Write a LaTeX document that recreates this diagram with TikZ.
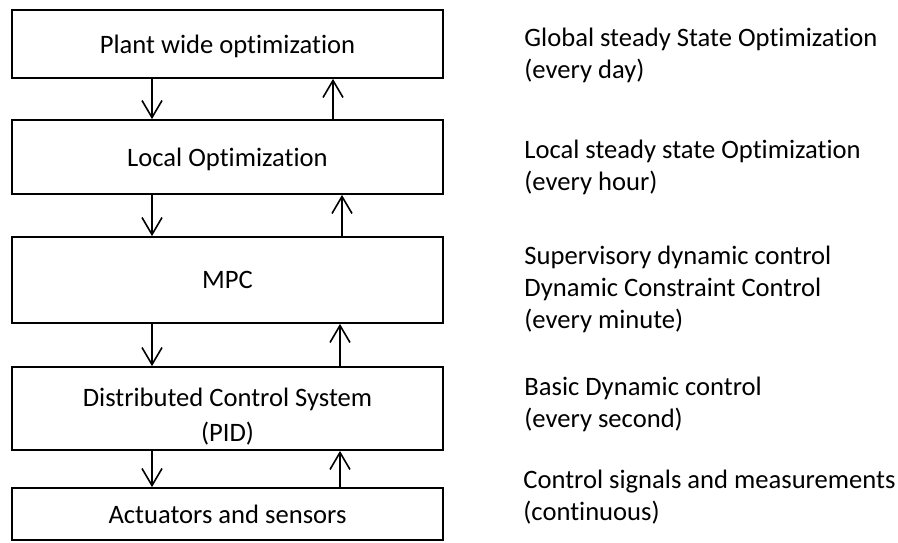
\documentclass[tikz,border=0pt]{standalone}
\usepackage{fontspec}
\setmainfont{Carlito}[Ligatures=NoCommon]
\usepackage{tikz}
\usetikzlibrary{
  arrows.meta,
  positioning
}
\tikzset{
    layer/.style={draw=black, line width=0.9pt, rectangle, inner sep=0pt,
        minimum width=215.5pt, align=center, font=\fontsize{13.3}{16}\selectfont},
    note/.style={anchor=base west, inner sep=0pt, align=left,
        font=\fontsize{13.3}{16}\selectfont},
    flow/.style={line width=0.8pt, -{Straight Barb[length=8.5pt, width=10pt, line width=0.8pt]}}
}

\begin{document}
\begin{tikzpicture}[x=0.5pt, y=-0.5pt]
            \useasboundingbox (0,0) rectangle (898,542);
            % hierarchy levels
            \node[layer, minimum height=34pt] (plant) at (227.5,44) {\rule{0pt}{12pt}Plant wide optimization};
            \node[layer, minimum height=37pt] (local) at (227.5,157) {\rule{0pt}{12pt}Local Optimization};
            \node[layer, minimum height=43pt] (mpc) at (227.5,280) {MPC};
            \node[layer, minimum height=41.5pt] (dcs) at (227.5,408.5) {\rule{0pt}{17pt}Distributed Control System\\[1.5pt](PID)};
            \node[layer, minimum height=26pt] (act) at (227.5,514) {Actuators and sensors};

            % time scales (anchored on the last line)
            \node[note] (nplant) at (524,78) {Global steady State Optimization\\(every day)};
            \node[note] (nlocal) at (524,190) {Local steady state Optimization\\(every hour)};
            \node[note] (nmpc) at (524,328) {Supervisory dynamic control\\Dynamic Constraint Control\\(every minute)};
            \node[note] (ndcs) at (524,427) {Basic Dynamic control\\(every second)};
            \node[note] (nact) at (523,520) {Control signals and measurements\\(continuous)};

            % setpoints down, measurements up
            \draw[flow] ([xshift=-37.75pt]plant.south) -- ([xshift=-37.75pt]local.north);
            \draw[flow] ([xshift=52.75pt]local.north) -- ([xshift=52.75pt]plant.south);
            \draw[flow] ([xshift=-37.75pt]local.south) -- ([xshift=-37.75pt]mpc.north);
            \draw[flow] ([xshift=57.25pt]mpc.north) -- ([xshift=57.25pt]local.south);
            \draw[flow] ([xshift=-37.75pt]mpc.south) -- ([xshift=-37.75pt]dcs.north);
            \draw[flow] ([xshift=56.25pt]dcs.north) -- ([xshift=56.25pt]mpc.south);
            \draw[flow] ([xshift=-37.75pt]dcs.south) -- ([xshift=-37.75pt]act.north);
            \draw[flow] ([xshift=56.25pt]act.north) -- ([xshift=56.25pt]dcs.south);
        \end{tikzpicture}
\end{document}
